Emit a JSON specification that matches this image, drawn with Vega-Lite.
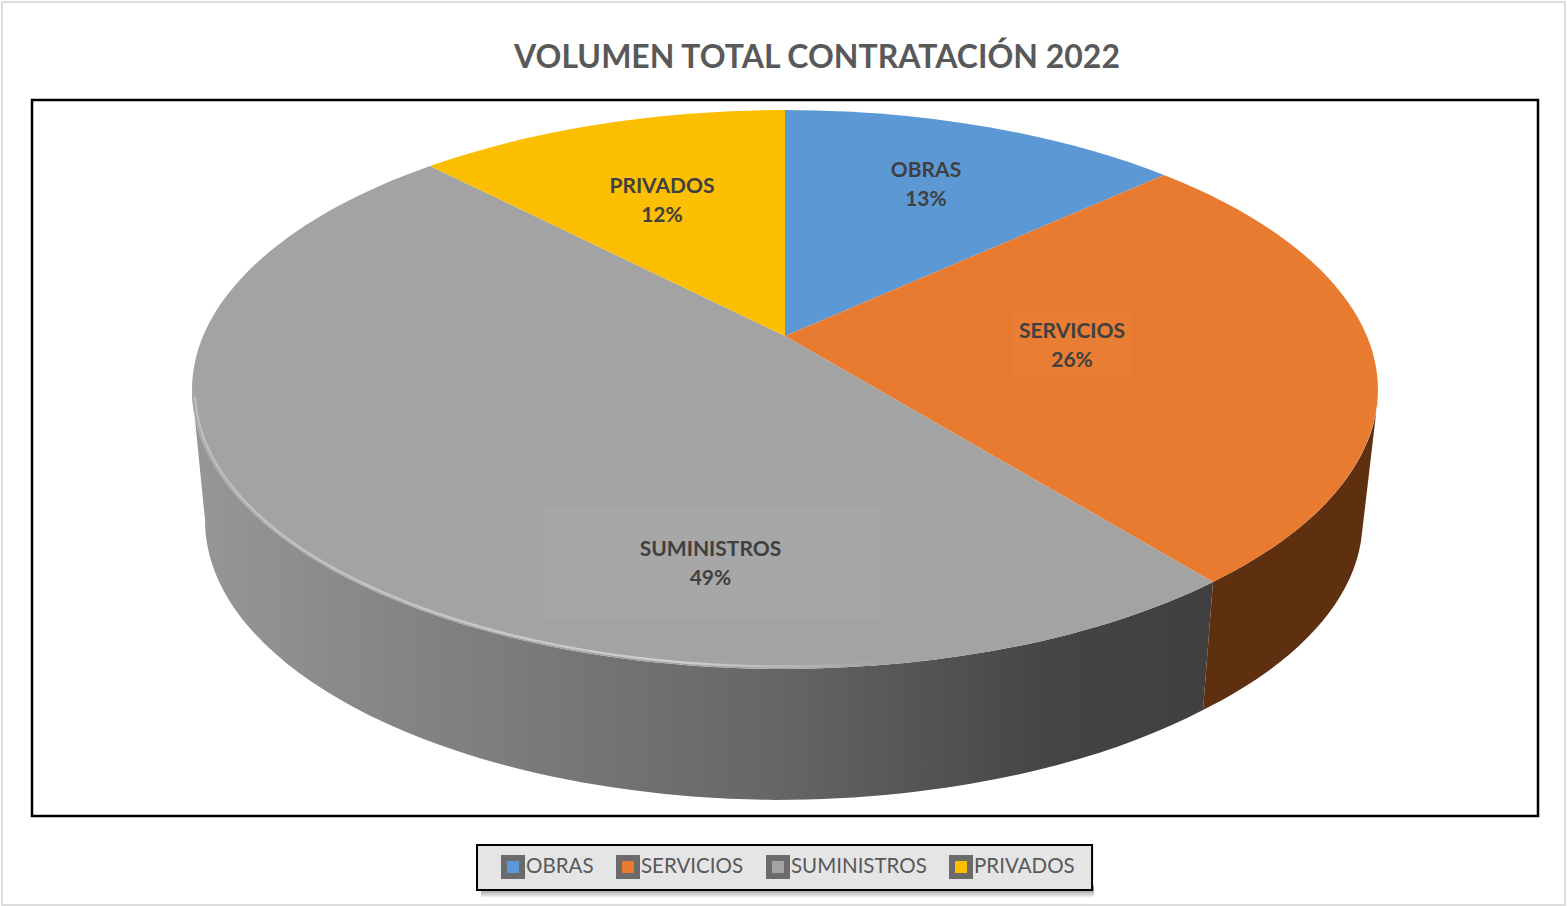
{
"$schema":"https://vega.github.io/schema/vega-lite/v6.json",
"autosize":{"type":"none"},
"width":1506,"height":716,
"padding":{"left":32,"top":100,"right":29,"bottom":90},
"background":"white",
"title":{"text":"VOLUMEN TOTAL CONTRATACIÓN 2022","font":"Lato","fontWeight":"bold","fontSize":32,"color":"#595959","anchor":"middle","dx":32,"offset":-74},
"config":{"axis":{"disable":true},"view":{"stroke":"#000000","strokeWidth":2.5,"fill":"white"}},
"data":{"values":[
{"categoria":"OBRAS","pct":0.13},
{"categoria":"SERVICIOS","pct":0.26},
{"categoria":"SUMINISTROS","pct":0.49},
{"categoria":"PRIVADOS","pct":0.12}
]},
"transform":[{"calculate":"datum.categoria + '\\n' + format(datum.pct, '.0%')","as":"etiqueta"}],
"layer":[
{"transform":[{"filter":"datum.categoria === 'OBRAS'"}],
 "mark":{"type":"rect","fill":"white","fillOpacity":0,"stroke":"#dcdcdc","strokeWidth":2},
 "encoding":{"x":{"datum":-1.99,"type":"quantitative","scale":{"domain":[0,100]}},"x2":{"datum":101.79},"y":{"datum":113.69,"type":"quantitative","scale":{"domain":[0,100]}},"y2":{"datum":-12.43}}},
{"transform":[{"filter":"datum.categoria === 'OBRAS'"}],
 "mark":{"type":"rect","fill":{"gradient":"linear","x1":0,"y1":0,"x2":0,"y2":1,"stops":[{"offset":0,"color":"#8e8e8e"},{"offset":0.4,"color":"#a6a6a6"},{"offset":1,"color":"#ffffff"}]}},
 "encoding":{"x":{"datum":29.81,"type":"quantitative","scale":{"domain":[0,100]}},"x2":{"datum":70.52},"y":{"datum":-9.78,"type":"quantitative","scale":{"domain":[0,100]}},"y2":{"datum":-11.45}}},
{"transform":[{"filter":"datum.categoria === 'OBRAS'"}],
 "mark":{"type":"rect","fill":"#e5e5e5","stroke":"#000000","strokeWidth":2},
 "encoding":{"x":{"datum":29.55,"type":"quantitative","scale":{"domain":[0,100]}},"x2":{"datum":70.39},"y":{"datum":-4.05,"type":"quantitative","scale":{"domain":[0,100]}},"y2":{"datum":-10.34}}},
{"mark":{"type":"point","filled":true,"opacity":1,"size":1},
 "encoding":{
  "x":{"datum":50,"type":"quantitative","scale":{"domain":[0,100]}},
  "y":{"datum":67.04,"type":"quantitative","scale":{"domain":[0,100]}},
  "color":{"field":"categoria","type":"nominal",
   "scale":{"domain":["OBRAS","SERVICIOS","SUMINISTROS","PRIVADOS"],"range":["#5b98d4","#e97b30","#a3a3a3","#fcbe00"]},
   "legend":{"title":null,"orient":"none","legendX":469,"legendY":755,"direction":"horizontal","columns":4,"padding":0,"symbolType":"square","symbolSize":324,"symbolStrokeColor":"#6b6b6b","symbolStrokeWidth":6,"symbolOpacity":1,"labelFont":"Lato","labelFontSize":20.5,"labelColor":"#595959","labelOffset":1,"columnPadding":13}}}},
{"transform":[{"filter":"datum.categoria === 'SUMINISTROS'"}],
 "mark":{"type":"point","filled":true,"opacity":1,"size":4,
  "shape":"M-593 53.5 A593 279.5 0 0 0 0 333 A593 279.5 0 0 0 428 246 L418 374 A578 274 0 0 1 -10 464 A580 280 0 0 1 -580 184 Z",
  "fill":{"gradient":"linear","x1":0,"y1":0,"x2":1,"y2":0,"stops":[{"offset":0,"color":"#979797"},{"offset":0.2,"color":"#858585"},{"offset":0.57,"color":"#666666"},{"offset":0.85,"color":"#444444"},{"offset":1,"color":"#404040"}]}},
 "encoding":{"x":{"datum":50,"type":"quantitative","scale":{"domain":[0,100]}},"y":{"datum":67.04,"type":"quantitative","scale":{"domain":[0,100]}}}},
{"transform":[{"filter":"datum.categoria === 'SERVICIOS'"}],
 "mark":{"type":"point","filled":true,"opacity":1,"size":4,"fill":"#5e3010",
  "shape":"M428 246 A593 279.5 0 0 0 593 61 L577 197 A578 274 0 0 1 418 374 Z"},
 "encoding":{"x":{"datum":50,"type":"quantitative","scale":{"domain":[0,100]}},"y":{"datum":67.04,"type":"quantitative","scale":{"domain":[0,100]}}}},
{"mark":{"type":"point","filled":true,"opacity":1,"size":4},
 "encoding":{
  "x":{"datum":50,"type":"quantitative","scale":{"domain":[0,100]}},
  "y":{"datum":67.04,"type":"quantitative","scale":{"domain":[0,100]}},
  "shape":{"field":"categoria","type":"nominal","legend":null,"scale":{"domain":["PRIVADOS","SUMINISTROS","SERVICIOS","OBRAS"],"range":[
    "M0 0 L-355 -170 A593 279.5 0 0 1 0 -226 Z",
    "M0 0 L428 246 A593 279.5 0 0 1 0 333 A593 279.5 0 0 1 -593 53.5 A593 279.5 0 0 1 -355 -170 Z",
    "M0 0 L379 -161 A593 279.5 0 0 1 593 53.5 A593 279.5 0 0 1 428 246 Z",
    "M0 0 L0 -226 A593 279.5 0 0 1 379 -161 Z"]}},
  "fill":{"field":"categoria","type":"nominal","legend":null,
   "scale":{"domain":["SERVICIOS","OBRAS","PRIVADOS","SUMINISTROS"],"range":["#e97b30","#5b98d4","#fcbe00","#a3a3a3"]}}}},
{"transform":[{"filter":"datum.categoria === 'SUMINISTROS'"}],
 "mark":{"type":"point","filled":false,"opacity":1,"size":4,"fill":"white","fillOpacity":0,"strokeWidth":2.5,"strokeCap":"round",
  "shape":"M-590 62 A590 277 0 0 0 0 330.5 A590 277 0 0 0 100 326.5",
  "stroke":{"gradient":"linear","x1":0,"y1":0,"x2":1,"y2":0,"stops":[{"offset":0,"color":"#bdbdbd"},{"offset":0.7,"color":"#cfcfcf"},{"offset":1,"color":"#a3a3a3"}]}},
 "encoding":{"x":{"datum":50,"type":"quantitative","scale":{"domain":[0,100]}},"y":{"datum":67.04,"type":"quantitative","scale":{"domain":[0,100]}}}},
{"transform":[{"filter":"datum.categoria === 'OBRAS'"}],"mark":{"type":"rect","fill":"white","opacity":0.01},
 "encoding":{"x":{"datum":56.18,"type":"quantitative","scale":{"domain":[0,100]}},"x2":{"datum":62.55},"y":{"datum":92.74,"type":"quantitative","scale":{"domain":[0,100]}},"y2":{"datum":83.8}}},
{"transform":[{"filter":"datum.categoria === 'SERVICIOS'"}],"mark":{"type":"rect","fill":"white","opacity":0.015},
 "encoding":{"x":{"datum":65.01,"type":"quantitative","scale":{"domain":[0,100]}},"x2":{"datum":73.04},"y":{"datum":70.39,"type":"quantitative","scale":{"domain":[0,100]}},"y2":{"datum":61.45}}},
{"transform":[{"filter":"datum.categoria === 'SUMINISTROS'"}],"mark":{"type":"rect","fill":"white","opacity":0.05},
 "encoding":{"x":{"datum":33.93,"type":"quantitative","scale":{"domain":[0,100]}},"x2":{"datum":56.31},"y":{"datum":43.3,"type":"quantitative","scale":{"domain":[0,100]}},"y2":{"datum":27.65}}},
{"transform":[{"filter":"datum.categoria === 'PRIVADOS'"}],"mark":{"type":"rect","fill":"white","opacity":0.015},
 "encoding":{"x":{"datum":37.85,"type":"quantitative","scale":{"domain":[0,100]}},"x2":{"datum":45.88},"y":{"datum":90.78,"type":"quantitative","scale":{"domain":[0,100]}},"y2":{"datum":81.42}}},
{"transform":[{"filter":"datum.categoria === 'OBRAS'"}],
 "mark":{"type":"text","font":"Lato","fontWeight":"bold","fontSize":21,"color":"#404040","lineBreak":"\n","lineHeight":29,"align":"center","baseline":"middle"},
 "encoding":{"text":{"field":"etiqueta"},"x":{"datum":59.36,"type":"quantitative","scale":{"domain":[0,100]}},"y":{"datum":90.09,"type":"quantitative","scale":{"domain":[0,100]}}}},
{"transform":[{"filter":"datum.categoria === 'SERVICIOS'"}],
 "mark":{"type":"text","font":"Lato","fontWeight":"bold","fontSize":21,"color":"#404040","lineBreak":"\n","lineHeight":29,"align":"center","baseline":"middle"},
 "encoding":{"text":{"field":"etiqueta"},"x":{"datum":69.06,"type":"quantitative","scale":{"domain":[0,100]}},"y":{"datum":67.6,"type":"quantitative","scale":{"domain":[0,100]}}}},
{"transform":[{"filter":"datum.categoria === 'SUMINISTROS'"}],
 "mark":{"type":"text","font":"Lato","fontWeight":"bold","fontSize":21,"color":"#404040","lineBreak":"\n","lineHeight":29,"align":"center","baseline":"middle"},
 "encoding":{"text":{"field":"etiqueta"},"x":{"datum":45.05,"type":"quantitative","scale":{"domain":[0,100]}},"y":{"datum":37.16,"type":"quantitative","scale":{"domain":[0,100]}}}},
{"transform":[{"filter":"datum.categoria === 'PRIVADOS'"}],
 "mark":{"type":"text","font":"Lato","fontWeight":"bold","fontSize":21,"color":"#404040","lineBreak":"\n","lineHeight":29,"align":"center","baseline":"middle"},
 "encoding":{"text":{"field":"etiqueta"},"x":{"datum":41.83,"type":"quantitative","scale":{"domain":[0,100]}},"y":{"datum":87.85,"type":"quantitative","scale":{"domain":[0,100]}}}}
]
}
